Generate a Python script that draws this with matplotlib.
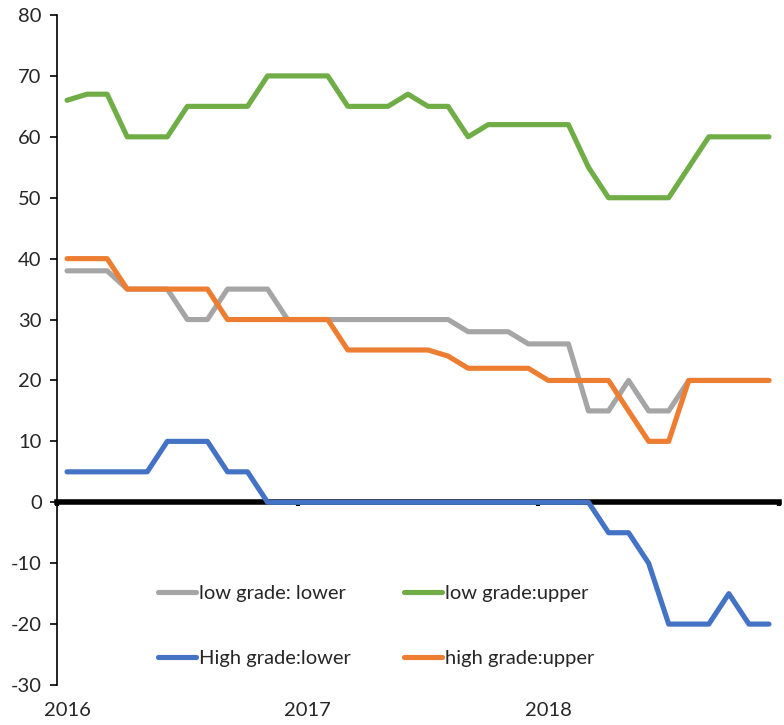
import numpy as np
import matplotlib
matplotlib.use("Agg")
import matplotlib.pyplot as plt

# monthly bounds, Jan 2016 .. Dec 2018
low_lower = [38, 38, 38, 35, 35, 35, 30, 30, 35, 35, 35, 30,
             30, 30, 30, 30, 30, 30, 30, 30, 28, 28, 28, 26,
             26, 26, 15, 15, 20, 15, 15, 20, 20, 20, 20, 20]
low_upper = [66, 67, 67, 60, 60, 60, 65, 65, 65, 65, 70, 70,
             70, 70, 65, 65, 65, 67, 65, 65, 60, 62, 62, 62,
             62, 62, 55, 50, 50, 50, 50, 55, 60, 60, 60, 60]
high_lower = [5, 5, 5, 5, 5, 10, 10, 10, 5, 5, 0, 0,
              0, 0, 0, 0, 0, 0, 0, 0, 0, 0, 0, 0,
              0, 0, 0, -5, -5, -10, -20, -20, -20, -15, -20, -20]
high_upper = [40, 40, 40, 35, 35, 35, 35, 35, 30, 30, 30, 30,
              30, 30, 25, 25, 25, 25, 25, 24, 22, 22, 22, 22,
              20, 20, 20, 20, 15, 10, 10, 20, 20, 20, 20, 20]
year_labels = ["2016", "2017", "2018"]

plt.rcParams['font.family'] = ['Lato', 'DejaVu Sans']
plt.rcParams['axes.unicode_minus'] = False
txt = '#262626'

fig = plt.figure(figsize=(7.84, 7.25), dpi=100)
ax = fig.add_axes([57/784, 1-685/725, (779-57)/784, (685-15)/725])

x = np.arange(len(low_lower))
kw = dict(lw=3.7, solid_joinstyle='round', solid_capstyle='round', zorder=3)
l1, = ax.plot(x, low_lower, color='#A5A5A5', label='low grade: lower', **kw)
l2, = ax.plot(x, low_upper, color='#70AD47', label='low grade:upper', **kw)
l3, = ax.plot(x, high_lower, color='#4472C4', label='High grade:lower', **kw)
l4, = ax.plot(x, high_upper, color='#ED7D31', label='high grade:upper', **kw)

ax.set_xlim(-0.5, len(x) - 0.5)
ax.set_ylim(-30, 80)
ax.set_yticks(np.arange(-30, 81, 10))
ax.tick_params(axis='y', direction='out', length=5, width=1.2, colors='black',
               labelcolor=txt, labelsize=14.5, pad=6)

# thick category axis crossing at zero, ticks between years
for s in ['top', 'right']:
    ax.spines[s].set_visible(False)
ax.spines['left'].set_linewidth(1.2)
ax.spines['bottom'].set_position(('data', 0))
ax.spines['bottom'].set_linewidth(4)
ax.spines['bottom'].set_zorder(2)
ax.set_xticks(np.arange(-0.5, len(x), 12).tolist() + [len(x) - 0.5])
ax.tick_params(axis='x', direction='out', length=3, width=3, labelbottom=False)

sec = ax.secondary_xaxis(0)
sec.set_xticks([0, 12, 24], labels=year_labels)
sec.spines['bottom'].set_visible(False)
sec.tick_params(length=0, pad=12, labelsize=14.5, labelcolor=txt)

ax.legend(handles=[l1, l3, l2, l4], ncol=2, frameon=False, fontsize=14.5,
          loc='lower left', bbox_to_anchor=(0.115, 0.0), handlelength=1.9,
          handletextpad=0.15, columnspacing=2.6, labelspacing=2.35,
          labelcolor=txt)

fig.savefig("out.png", dpi=100)
